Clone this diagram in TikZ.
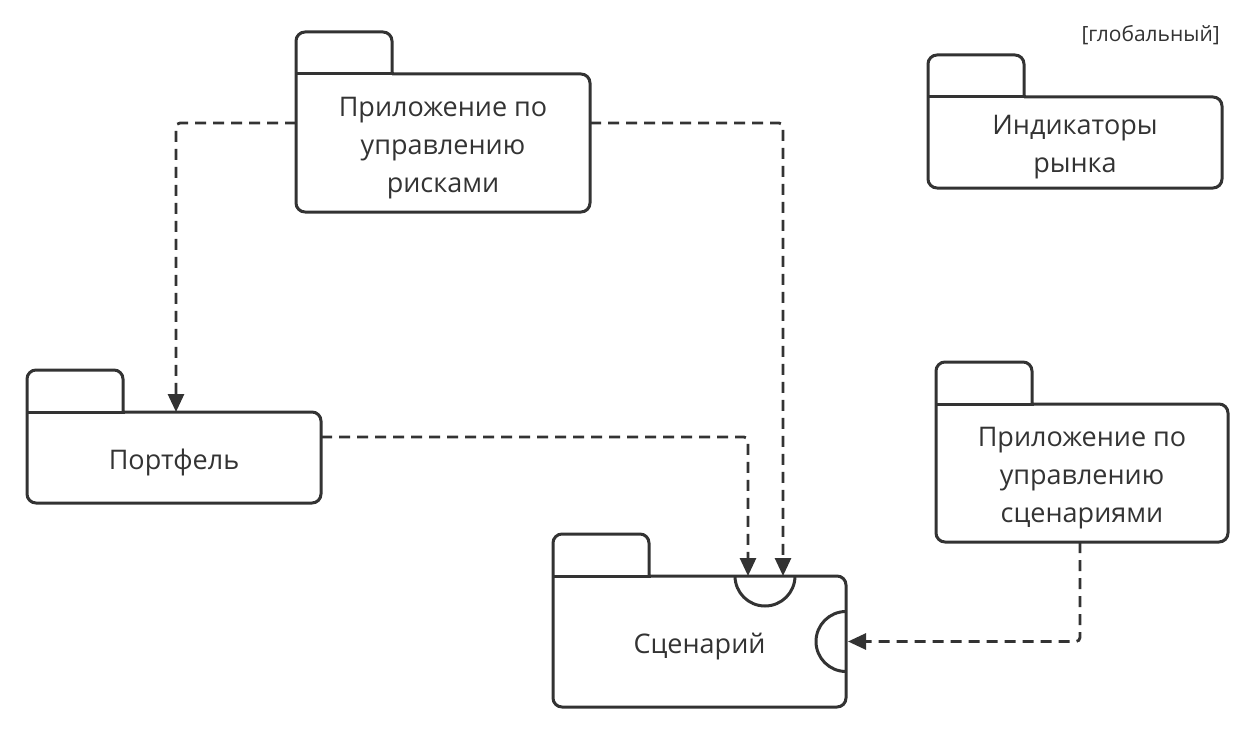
\documentclass[tikz,border=0pt]{standalone}
\usepackage{fontspec}
\setmainfont{Open Sans}
\usetikzlibrary{arrows.meta,calc}
\definecolor{ink}{HTML}{333333}
\tikzset{
  pkgbox/.style={draw=none, inner sep=0pt, outer sep=0pt},
  pkglabel/.style={inner sep=0pt, align=center, text=ink, yshift=-5pt,
    font=\fontsize{27}{38}\selectfont},
  pkgline/.style={draw=ink, line width=3pt, line join=round},
  dep/.style={draw=ink, line width=2.8pt, dash pattern=on 11pt off 7pt, rounded corners=4pt,
    -{Triangle[length=18pt,width=16pt]}},
}
\newcommand{\pkgdraw}[1]{%
  \draw[pkgline, rounded corners=9pt] ($(#1.north west)+(96,0)$) -- (#1.north east) -- (#1.south east)
    -- (#1.south west) -- (#1.north west) -- ($(#1.north west)+(0,-42)$) -- ($(#1.north west)+(96,-42)$)
    -- ($(#1.north west)+(96,0)$);
  \draw[pkgline, line cap=rect] (#1.north west) -- ($(#1.north west)+(96,0)$);
}
\begin{document}
\begin{tikzpicture}[x=1pt,y=-1pt]
\useasboundingbox (0,0) rectangle (1248,741);
\node[pkgbox, minimum width=294pt, minimum height=138pt, label={[pkglabel]center:{Приложение по\\управлению\\рисками}}] (risk) at (443,143) {};
\node[pkgbox, minimum width=294pt, minimum height=91pt, label={[pkglabel]center:{Индикаторы\\рынка}}] (mkt) at (1075,142.5) {};
\node[pkgbox, minimum width=294pt, minimum height=91pt, label={[pkglabel]center:{Портфель}}] (portf) at (174,457.5) {};
\node[pkgbox, minimum width=293pt, minimum height=131pt, label={[pkglabel]center:{Сценарий}}] (scen) at (699.5,641.5) {};
\node[pkgbox, minimum width=292pt, minimum height=138pt, label={[pkglabel]center:{Приложение по\\управлению\\сценариями}}] (sapp) at (1082,473) {};
\node[anchor=east, text=ink, font=\fontsize{21}{24}\selectfont, inner sep=0pt] (glob) at (1220,35) {[глобальный]};
\pkgdraw{risk}
\pkgdraw{mkt}
\pkgdraw{portf}
\pkgdraw{scen}
\pkgdraw{sapp}
% sockets
\draw[pkgline] ($(scen.north west)+(182,0)$) arc[start angle=180, end angle=360, radius=30pt];
\draw[pkgline] ($(scen.east)+(0,-30)$) arc[start angle=90, end angle=270, radius=30pt];
% connectors
\draw[dep] ($(risk.north west)+(0,49)$) -| ($(portf.north west)+(149,0)$);
\draw[dep] ($(risk.north east)+(0,49)$) -| ($(scen.north west)+(230,0)$);
\draw[dep] ($(portf.north east)+(0,25)$) -| ($(scen.north west)+(195,0)$);
\draw[dep] ($(sapp.south west)+(144,0)$) |- ($(scen.east)+(2,0)$);
\end{tikzpicture}
\end{document}
